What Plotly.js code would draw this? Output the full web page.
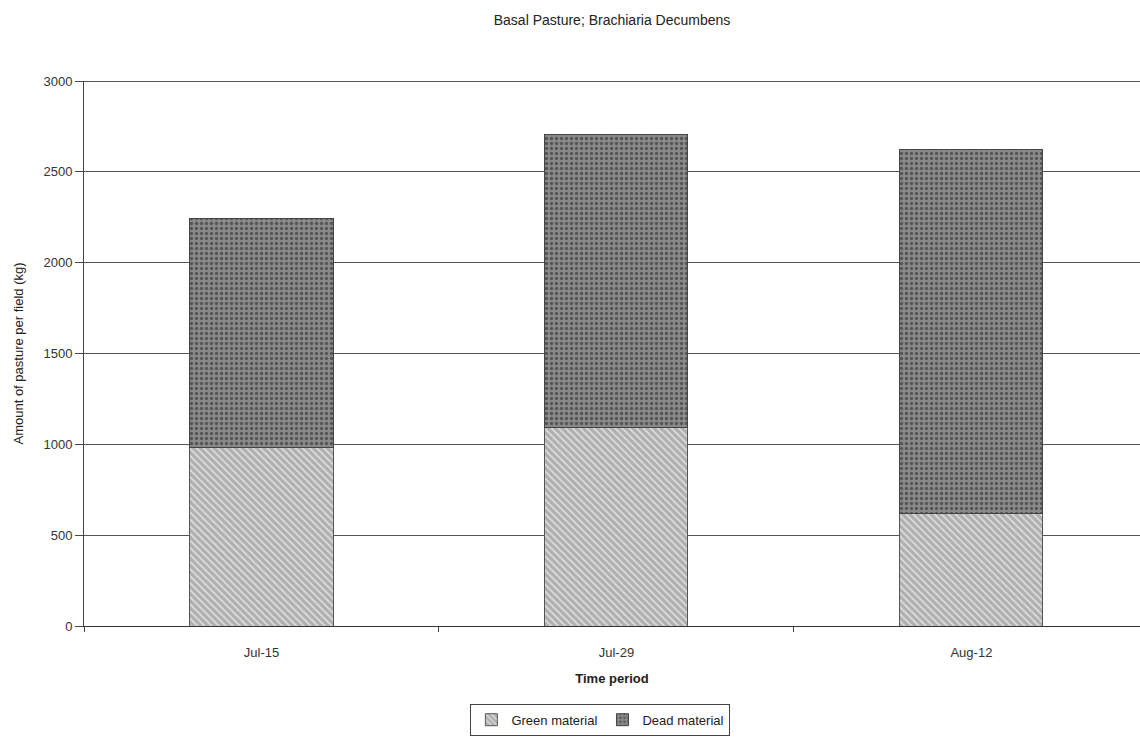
<!DOCTYPE html>
<html>
<head>
<meta charset="utf-8">
<script src="https://cdn.plot.ly/plotly-3.0.1.min.js"></script>
<style>html,body{margin:0;padding:0;background:#fff;}#chart{width:1140px;height:738px;}</style>
</head>
<body>
<div id="chart"></div>
<script>
const categories = ["Jul-15", "Jul-29", "Aug-12"];
const greenMaterial = [980, 1095, 622];
const deadMaterial = [1265, 1613, 2003];
const seriesNames = ["Green material", "Dead material"];
const yTicks = [0, 500, 1000, 1500, 2000, 2500, 3000];

const font = "Liberation Sans, Arial, sans-serif";

const traces = [
  {
    type: "bar", name: seriesNames[0], x: categories, y: greenMaterial,
    marker: {
      color: "#b4b4b4",
      line: {color: "#555", width: 1},
      pattern: {shape: "\\", fgcolor: "#e2e2e2", bgcolor: "#b0b0b0", size: 5, solidity: 0.3}
    }
  },
  {
    type: "bar", name: seriesNames[1], x: categories, y: deadMaterial,
    marker: {
      color: "#7c7c7c",
      line: {color: "#444", width: 1},
      pattern: {shape: ".", fgcolor: "#555555", bgcolor: "#8a8a8a", size: 5, solidity: 0.35}
    }
  }
];

const layout = {
  width: 1140, height: 738,
  paper_bgcolor: "#fff", plot_bgcolor: "#fff",
  barmode: "stack", bargap: 0.597,
  margin: {l: 84, r: 0, t: 81, b: 112},
  font: {family: font, color: "#222", size: 13},
  title: {text: "Basal Pasture; Brachiaria Decumbens", x: 0.5, xref: "paper", y: 0.973, yanchor: "middle",
          font: {family: font, size: 14, color: "#222"}},
  xaxis: {
    type: "category", range: [-0.5, 2.475],
    showline: true, linecolor: "#333", linewidth: 1,
    ticks: "outside", tickson: "boundaries", ticklen: 5, tickcolor: "#444",
    showgrid: false,
    ticklabelstandoff: 14,
    tickfont: {family: font, size: 13, color: "#333"},
    title: {text: "<b>Time period</b>", font: {family: font, size: 13, color: "#222"}, standoff: 15}
  },
  yaxis: {
    range: [0, 3000], tickvals: yTicks, ticktext: yTicks.map(String),
    showline: true, linecolor: "#444", linewidth: 1,
    ticks: "outside", ticklen: 8, tickcolor: "#444",
    showgrid: true, gridcolor: "#555", gridwidth: 1,
    zeroline: false,
    tickfont: {family: font, size: 13, color: "#333"},
    title: {text: "Amount of pasture per field (kg)", font: {family: font, size: 13, color: "#222"}, standoff: 16}
  },
  shapes: [
    {type: "line", xref: "paper", yref: "y", x0: 0, x1: 1, y0: 3000, y1: 3000, line: {color: "#222", width: 1.5}}
  ],
  legend: {
    orientation: "h", x: 0.489, xanchor: "center", y: -0.172, yanchor: "middle",
    bordercolor: "#444", borderwidth: 1, bgcolor: "#fff",
    font: {family: font, size: 13, color: "#222"},
    itemwidth: 30, traceorder: "normal"
  },
  showlegend: true
};

Plotly.newPlot("chart", traces, layout, {displayModeBar: false, staticPlot: true});
</script>
</body>
</html>
